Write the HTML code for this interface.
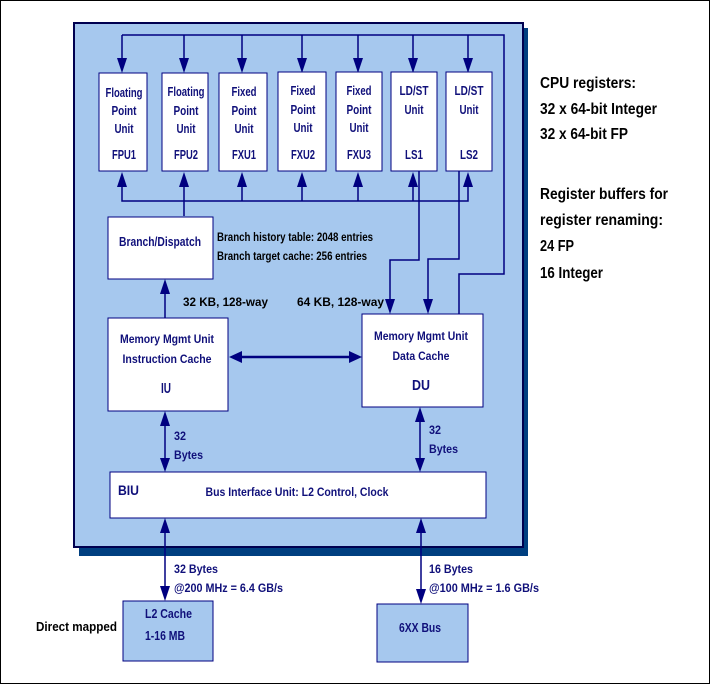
<!DOCTYPE html>
<html><head><meta charset="utf-8"><style>
html,body{margin:0;padding:0;background:#fff}
svg{display:block}
text{font-family:"Liberation Sans",sans-serif;font-weight:bold;fill:#10107a}
.k{fill:#000}
</style></head><body>
<svg width="710" height="684" viewBox="0 0 710 684" xmlns="http://www.w3.org/2000/svg">
<rect x="0.5" y="0.5" width="709" height="683" fill="#fff" stroke="#000" stroke-width="1"/>
<rect x="79" y="28" width="449" height="528" fill="#003f80"/>
<rect x="74" y="23" width="449" height="524" fill="#a6c8ee" stroke="#000050" stroke-width="2"/>
<g stroke="#000080" stroke-width="1.5" fill="none">
<polyline points="122,35 504,35 504,274 459,274 459,314"/>
<line x1="122" y1="35" x2="122" y2="60"/><line x1="184" y1="35" x2="184" y2="60"/>
<line x1="242" y1="35" x2="242" y2="60"/><line x1="302" y1="35" x2="302" y2="60"/>
<line x1="358" y1="35" x2="358" y2="60"/><line x1="413" y1="35" x2="413" y2="60"/>
<line x1="468" y1="35" x2="468" y2="60"/>
<polyline points="122,185 122,201 468,201 468,185"/>
<line x1="184" y1="185" x2="184" y2="216"/>
<line x1="242" y1="185" x2="242" y2="201"/><line x1="302" y1="185" x2="302" y2="201"/>
<line x1="358" y1="185" x2="358" y2="201"/><line x1="413" y1="185" x2="413" y2="201"/>
<polyline points="419,171 419,260 390,260 390,300"/>
<polyline points="459,171 459,259 428,259 428,300"/>
<line x1="165" y1="292" x2="165" y2="318"/>
<line x1="240" y1="357" x2="350" y2="357" stroke-width="2.5"/>
<line x1="165" y1="424" x2="165" y2="460"/>
<line x1="420" y1="420" x2="420" y2="460"/>
<line x1="165" y1="530" x2="165" y2="588"/>
<line x1="421" y1="530" x2="421" y2="590"/>
</g>
<g fill="#000080">
<polygon points="117,58 127,58 122,73"/><polygon points="179,58 189,58 184,73"/>
<polygon points="237,58 247,58 242,73"/><polygon points="297,58 307,58 302,73"/>
<polygon points="353,58 363,58 358,73"/><polygon points="408,58 418,58 413,73"/>
<polygon points="463,58 473,58 468,73"/>
<polygon points="117,187 127,187 122,172"/><polygon points="179,187 189,187 184,172"/>
<polygon points="237,187 247,187 242,172"/><polygon points="297,187 307,187 302,172"/>
<polygon points="353,187 363,187 358,172"/><polygon points="408,187 418,187 413,172"/>
<polygon points="463,187 473,187 468,172"/>
<polygon points="385,299 395,299 390,314"/><polygon points="423,299 433,299 428,314"/>
<polygon points="160,294 170,294 165,279"/>
<polygon points="229,357 242,351 242,363"/><polygon points="362,357 349,351 349,363"/>
<polygon points="160,426 170,426 165,411"/><polygon points="160,458 170,458 165,472"/>
<polygon points="415,422 425,422 420,407"/><polygon points="415,458 425,458 420,472"/>
<polygon points="432,483 442,483 437,497"/>
<polygon points="160,533 170,533 165,518"/><polygon points="160,586 170,586 165,601"/>
<polygon points="416,533 426,533 421,518"/><polygon points="416,589 426,589 421,604"/>
</g>
<g fill="#fff" stroke="#000080" stroke-width="1">
<rect x="99" y="73" width="48" height="98"/><rect x="162" y="73" width="46" height="98"/>
<rect x="219" y="73" width="48" height="98"/><rect x="278" y="72" width="48" height="99"/>
<rect x="336" y="72" width="46" height="99"/><rect x="391" y="72" width="46" height="99"/>
<rect x="446" y="72" width="46" height="99"/>
<rect x="108" y="217" width="105" height="62"/>
<rect x="108" y="318" width="120" height="93"/>
<rect x="362" y="314" width="121" height="93"/>
<rect x="110" y="472" width="376" height="46"/>
</g>
<g fill="#a6c8ee" stroke="#000080" stroke-width="1">
<rect x="123" y="601" width="90" height="60"/>
<rect x="377" y="604" width="91" height="58"/>
</g>
<g font-size="13" text-anchor="middle" lengthAdjust="spacingAndGlyphs">
<text x="124" y="97" textLength="37" lengthAdjust="spacingAndGlyphs">Floating</text><text x="124" y="115" textLength="25" lengthAdjust="spacingAndGlyphs">Point</text><text x="124" y="133" textLength="19" lengthAdjust="spacingAndGlyphs">Unit</text><text x="124" y="159" textLength="24" lengthAdjust="spacingAndGlyphs">FPU1</text>
<text x="186" y="96" textLength="37" lengthAdjust="spacingAndGlyphs">Floating</text><text x="186" y="115" textLength="25" lengthAdjust="spacingAndGlyphs">Point</text><text x="186" y="133" textLength="19" lengthAdjust="spacingAndGlyphs">Unit</text><text x="186" y="159" textLength="24" lengthAdjust="spacingAndGlyphs">FPU2</text>
<text x="244" y="96" textLength="25" lengthAdjust="spacingAndGlyphs">Fixed</text><text x="244" y="115" textLength="25" lengthAdjust="spacingAndGlyphs">Point</text><text x="244" y="133" textLength="19" lengthAdjust="spacingAndGlyphs">Unit</text><text x="244" y="159" textLength="24" lengthAdjust="spacingAndGlyphs">FXU1</text>
<text x="303" y="95" textLength="25" lengthAdjust="spacingAndGlyphs">Fixed</text><text x="303" y="114" textLength="25" lengthAdjust="spacingAndGlyphs">Point</text><text x="303" y="132" textLength="19" lengthAdjust="spacingAndGlyphs">Unit</text><text x="303" y="159" textLength="24" lengthAdjust="spacingAndGlyphs">FXU2</text>
<text x="359" y="95" textLength="25" lengthAdjust="spacingAndGlyphs">Fixed</text><text x="359" y="114" textLength="25" lengthAdjust="spacingAndGlyphs">Point</text><text x="359" y="132" textLength="19" lengthAdjust="spacingAndGlyphs">Unit</text><text x="359" y="159" textLength="24" lengthAdjust="spacingAndGlyphs">FXU3</text>
<text x="414" y="95" textLength="29" lengthAdjust="spacingAndGlyphs">LD/ST</text><text x="414" y="114" textLength="19" lengthAdjust="spacingAndGlyphs">Unit</text><text x="414" y="159" textLength="18" lengthAdjust="spacingAndGlyphs">LS1</text>
<text x="469" y="95" textLength="29" lengthAdjust="spacingAndGlyphs">LD/ST</text><text x="469" y="114" textLength="19" lengthAdjust="spacingAndGlyphs">Unit</text><text x="469" y="159" textLength="18" lengthAdjust="spacingAndGlyphs">LS2</text>
<text x="160" y="246" font-size="13" textLength="82" lengthAdjust="spacingAndGlyphs">Branch/Dispatch</text>
<text x="167" y="343" font-size="12" textLength="94" lengthAdjust="spacingAndGlyphs">Memory Mgmt Unit</text>
<text x="167" y="363" font-size="12" textLength="89" lengthAdjust="spacingAndGlyphs">Instruction Cache</text>
<text x="166" y="393" font-size="15" font-weight="normal" textLength="10" lengthAdjust="spacingAndGlyphs">IU</text>
<text x="421" y="340" font-size="12" textLength="94" lengthAdjust="spacingAndGlyphs">Memory Mgmt Unit</text>
<text x="421" y="360" font-size="12" textLength="57" lengthAdjust="spacingAndGlyphs">Data Cache</text>
<text x="421" y="390" font-size="15" textLength="18" lengthAdjust="spacingAndGlyphs">DU</text>
<text x="297" y="496" font-size="12" textLength="183" lengthAdjust="spacingAndGlyphs">Bus Interface Unit: L2 Control, Clock</text>
</g>
<g font-size="12">
<text class="k" x="217" y="241" font-weight="normal" textLength="156" lengthAdjust="spacingAndGlyphs">Branch history table: 2048 entries</text>
<text class="k" x="217" y="260" font-weight="normal" textLength="150" lengthAdjust="spacingAndGlyphs">Branch target cache: 256 entries</text>
<text class="k" x="183" y="306" textLength="85" lengthAdjust="spacingAndGlyphs">32 KB, 128-way</text>
<text class="k" x="297" y="306" textLength="87" lengthAdjust="spacingAndGlyphs">64 KB, 128-way</text>
<text x="174" y="440" textLength="12" lengthAdjust="spacingAndGlyphs">32</text><text x="174" y="459" textLength="29" lengthAdjust="spacingAndGlyphs">Bytes</text>
<text x="429" y="434" textLength="12" lengthAdjust="spacingAndGlyphs">32</text><text x="429" y="453" textLength="29" lengthAdjust="spacingAndGlyphs">Bytes</text>
<text x="118" y="495" font-size="14" textLength="21" lengthAdjust="spacingAndGlyphs">BIU</text>
<text x="145" y="618" font-size="13" textLength="47" lengthAdjust="spacingAndGlyphs">L2 Cache</text>
<text x="145" y="640" font-size="13" textLength="40" lengthAdjust="spacingAndGlyphs">1-16 MB</text>
<text x="399" y="632" font-size="13" textLength="42" lengthAdjust="spacingAndGlyphs">6XX Bus</text>
<text x="174" y="573" textLength="44" lengthAdjust="spacingAndGlyphs">32 Bytes</text><text x="174" y="592" textLength="109" lengthAdjust="spacingAndGlyphs">@200 MHz = 6.4 GB/s</text>
<text x="429" y="573" textLength="44" lengthAdjust="spacingAndGlyphs">16 Bytes</text><text x="429" y="592" textLength="110" lengthAdjust="spacingAndGlyphs">@100 MHz = 1.6 GB/s</text>
<text class="k" x="36" y="631" font-size="13" textLength="81" lengthAdjust="spacingAndGlyphs">Direct mapped</text>
</g>
<g font-size="16">
<text class="k" x="540" y="88" textLength="96" lengthAdjust="spacingAndGlyphs">CPU registers:</text>
<text class="k" x="540" y="114" textLength="117" lengthAdjust="spacingAndGlyphs">32 x 64-bit Integer</text>
<text class="k" x="540" y="139" textLength="88" lengthAdjust="spacingAndGlyphs">32 x 64-bit FP</text>
<text class="k" x="540" y="199" textLength="128" lengthAdjust="spacingAndGlyphs">Register buffers for</text>
<text class="k" x="540" y="225" textLength="123" lengthAdjust="spacingAndGlyphs">register renaming:</text>
<text class="k" x="540" y="251" textLength="34" lengthAdjust="spacingAndGlyphs">24 FP</text>
<text class="k" x="540" y="278" textLength="63" lengthAdjust="spacingAndGlyphs">16 Integer</text>
</g>
</svg>
</body></html>
